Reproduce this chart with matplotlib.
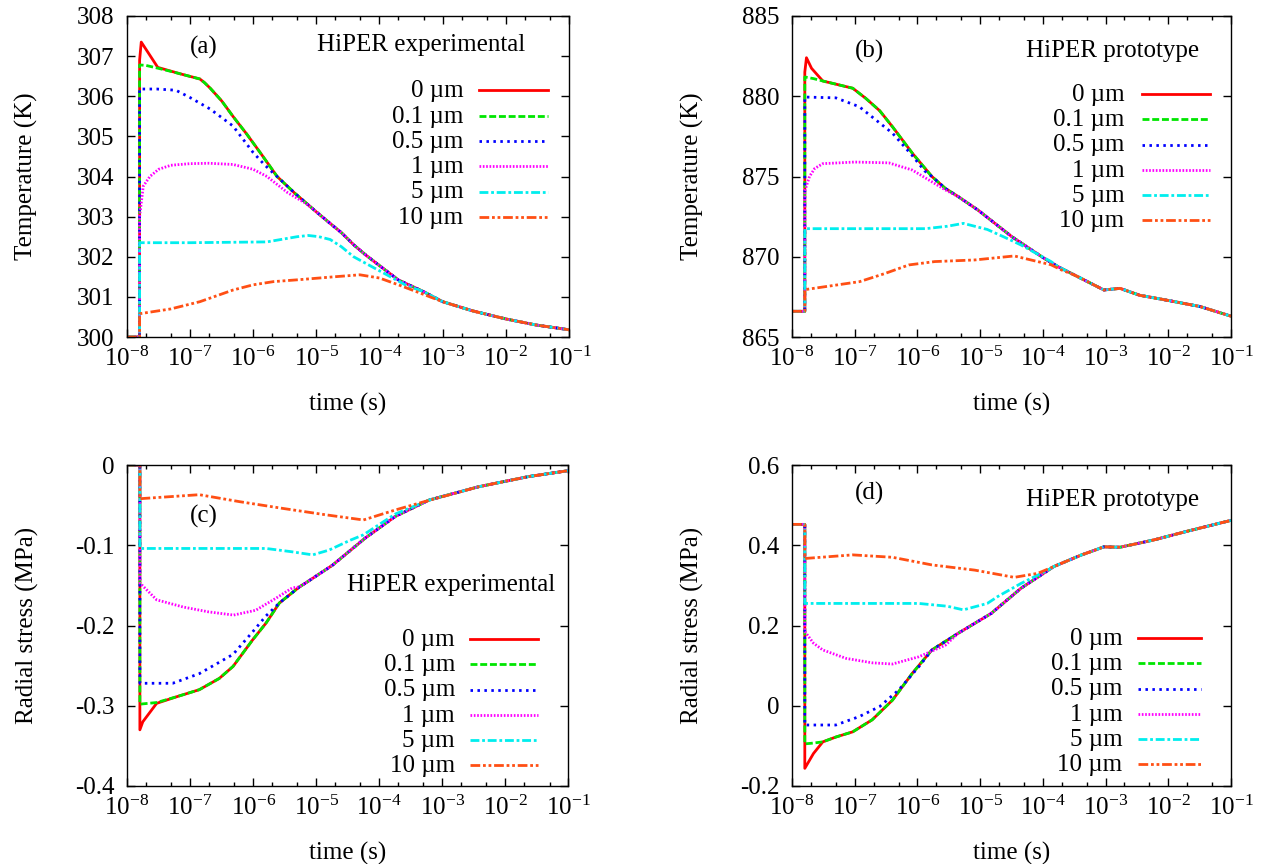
import numpy as np
import matplotlib
matplotlib.use('Agg')
import matplotlib.pyplot as plt
from matplotlib.ticker import FixedLocator, LogLocator, NullFormatter

plt.rcParams['font.family'] = ['Liberation Serif', 'DejaVu Serif']
plt.rcParams['mathtext.fontset'] = 'custom'
plt.rcParams['mathtext.rm'] = 'Liberation Serif'
plt.rcParams['mathtext.it'] = 'Liberation Serif:italic'
plt.rcParams['axes.unicode_minus'] = False

# ---------------- data ----------------
LABELS = ['0 \u00b5m', '0.1 \u00b5m', '0.5 \u00b5m', '1 \u00b5m', '5 \u00b5m', '10 \u00b5m']
XTICKS = [1e-8, 1e-7, 1e-6, 1e-5, 1e-4, 1e-3, 1e-2, 1e-1]
XTICKLABELS = ['10$^{-8}$', '10$^{-7}$', '10$^{-6}$', '10$^{-5}$', '10$^{-4}$',
               '10$^{-3}$', '10$^{-2}$', '10$^{-1}$']

# (a) temperature, HiPER experimental
A_T0 = [1e-8, 1.6e-8, 1.6e-8, 1.7e-8, 3.1e-8, 7e-8, 1.44e-7, 1.7e-7, 2.1e-7, 3.2e-7, 4.8e-7, 8e-7,
        1.29e-6, 1.8e-6, 2.4e-6, 4.6e-6, 1e-5, 1.66e-5, 2.5e-5, 3.9e-5, 6e-5, 1e-4, 2e-4, 5e-4,
        1e-3, 3e-3, 1e-2, 3e-2, 1e-1]
A_V0 = [300, 300, 306.9, 307.35, 306.72, 306.56, 306.43, 306.34, 306.2, 305.88, 305.5, 305.05,
        304.6, 304.28, 304.0, 303.58, 303.12, 302.83, 302.6, 302.3, 302.05, 301.78, 301.42, 301.13,
        300.88, 300.65, 300.45, 300.3, 300.18]
A_T1 = [1e-8, 1.6e-8, 1.6e-8, 2e-8, 3.1e-8, 5e-8]
A_V1 = [300, 300, 306.78, 306.77, 306.7, 306.62]
A_T2 = [1e-8, 1.6e-8, 1.6e-8, 3e-8, 6e-8, 1e-7, 2.1e-7, 4.8e-7, 1e-6, 1.5e-6, 2.1e-6]
A_V2 = [300, 300, 306.18, 306.18, 306.15, 305.97, 305.68, 305.26, 304.6, 304.3, 304.08]
A_T3 = [1e-8, 1.6e-8, 1.6e-8, 1.83e-8, 2.33e-8, 3.2e-8, 5e-8, 1e-7, 2e-7, 4.8e-7, 1e-6, 1.66e-6, 3.5e-6, 7e-6]
A_V3 = [300, 300, 303.0, 303.76, 304.0, 304.18, 304.28, 304.32, 304.33, 304.3, 304.18, 304.0, 303.6, 303.32]
A_T4 = [1e-8, 1.6e-8, 1.6e-8, 1e-7, 1.66e-6, 3e-6, 5e-6, 7.5e-6, 1.1e-5, 1.66e-5, 2.5e-5, 3.9e-5, 1e-4, 2.7e-4]
A_V4 = [300, 300, 302.35, 302.35, 302.37, 302.44, 302.5, 302.53, 302.5, 302.43, 302.25, 302.0, 301.65, 301.28]
A_T5 = [1e-8, 1.6e-8, 1.6e-8, 5e-8, 1.44e-7, 4.8e-7, 1e-6, 2.1e-6, 5.5e-6, 1.9e-5, 4.9e-5, 1e-4, 2e-4, 4e-4, 6.3e-4]
A_V5 = [300, 300, 300.58, 300.7, 300.88, 301.17, 301.3, 301.38, 301.43, 301.5, 301.55, 301.47, 301.3, 301.12, 301.0]
A_JOIN = [7e-8, 2.4e-6, 1e-5, 5e-4, 1e-3]

# (b) temperature, HiPER prototype
B_T0 = [1e-8, 1.6e-8, 1.6e-8, 1.7e-8, 2.05e-8, 3.1e-8, 9.3e-8, 1.5e-7, 2.5e-7, 4e-7, 8.3e-7, 1.7e-6,
        2.8e-6, 4.5e-6, 9.3e-6, 3.2e-5, 1.05e-4, 1.75e-4, 3.2e-4, 9.4e-4, 1.7e-3, 3.5e-3, 9.3e-3, 3.2e-2, 1e-1]
B_V0 = [866.6, 866.6, 881.5, 882.4, 881.74, 880.95, 880.5, 879.87, 879.1, 878.1, 876.45, 875.0,
        874.25, 873.74, 872.9, 871.25, 869.9, 869.38, 868.86, 867.93, 868.03, 867.6, 867.3, 866.9, 866.3]
B_T1 = [1e-8, 1.6e-8, 1.6e-8, 2.2e-8]
B_V1 = [866.6, 866.6, 881.2, 881.1]
B_T2 = [1e-8, 1.6e-8, 1.6e-8, 5e-8, 1.18e-7, 4e-7, 8.3e-7, 1.3e-6]
B_V2 = [866.6, 866.6, 879.95, 879.9, 879.35, 877.7, 876.3, 875.35]
B_T3 = [1e-8, 1.6e-8, 1.6e-8, 1.9e-8, 2.3e-8, 3.1e-8, 1e-7, 3.5e-7, 8.3e-7, 2.8e-6]
B_V3 = [866.6, 866.6, 874.1, 875.0, 875.5, 875.8, 875.9, 875.85, 875.4, 874.16]
B_T4 = [1e-8, 1.6e-8, 1.6e-8, 1.35e-6, 3e-6, 5.4e-6, 1.3e-5, 2.5e-5, 4.5e-5, 1.35e-4]
B_V4 = [866.6, 866.6, 871.75, 871.75, 871.9, 872.08, 871.7, 871.2, 870.73, 869.7]
B_T5 = [1e-8, 1.6e-8, 1.6e-8, 1.2e-7, 3e-7, 7.3e-7, 1.9e-6, 8.2e-6, 3.5e-5, 1.35e-4, 2e-4]
B_V5 = [866.6, 866.6, 867.95, 868.45, 868.95, 869.49, 869.7, 869.8, 870.05, 869.5, 869.17]
B_JOIN = [3.1e-8, 1.7e-6, 4.5e-6, 1.75e-4, 3.2e-4]

# (c) radial stress, HiPER experimental
C_T0 = [1e-8, 1.6e-8, 1.6e-8, 1.78e-8, 2.95e-8, 6e-8, 1.4e-7, 2.9e-7, 4.8e-7, 9.8e-7, 1.6e-6, 2.6e-6,
        5.4e-6, 6.8e-6, 1.8e-5, 6e-5, 1.8e-4, 6.2e-4, 3.8e-3, 2.3e-2, 1e-1]
C_V0 = [0, 0, -0.330, -0.320, -0.297, -0.289, -0.280, -0.266, -0.251, -0.218, -0.197, -0.172,
        -0.152, -0.147, -0.125, -0.091, -0.064, -0.0436, -0.027, -0.0145, -0.007]
C_T1 = [1e-8, 1.6e-8, 1.6e-8, 2.95e-8]
C_V1 = [0, 0, -0.298, -0.296]
C_T2 = [1e-8, 1.6e-8, 1.6e-8, 5.3e-8, 1.4e-7, 4.8e-7, 9.8e-7, 1.6e-6]
C_V2 = [0, 0, -0.272, -0.272, -0.26, -0.236, -0.208, -0.188]
C_T3 = [1e-8, 1.6e-8, 1.6e-8, 2.95e-8, 7.8e-8, 1.96e-7, 4.9e-7, 1.1e-6, 2.3e-6, 4.2e-6]
C_V3 = [0, 0, -0.147, -0.168, -0.177, -0.183, -0.187, -0.181, -0.166, -0.153]
C_T4 = [1e-8, 1.6e-8, 1.6e-8, 1.6e-6, 4e-6, 8.8e-6, 1.6e-5, 3.4e-5, 5.6e-5, 1.8e-4]
C_V4 = [0, 0, -0.104, -0.104, -0.108, -0.112, -0.106, -0.094, -0.087, -0.061]
C_T5 = [1e-8, 1.6e-8, 1.6e-8, 1.4e-7, 6.1e-7, 2.9e-6, 1.4e-5, 5.6e-5, 1.8e-4, 5e-4]
C_V5 = [0, 0, -0.042, -0.037, -0.0457, -0.054, -0.062, -0.0685, -0.056, -0.046]
C_JOIN = [6e-8, 2.6e-6, 5.4e-6, 6.2e-4, 3.8e-3]

# (d) radial stress, HiPER prototype
D_T0 = [1e-8, 1.6e-8, 1.6e-8, 2.2e-8, 3.1e-8, 5e-8, 9.3e-8, 1.9e-7, 4e-7, 8.3e-7, 1.7e-6, 4.5e-6,
        1.5e-5, 4.5e-5, 1.5e-4, 4e-4, 9.4e-4, 1.7e-3, 5.8e-3, 1.9e-2, 1e-1]
D_V0 = [0.452, 0.452, -0.156, -0.119, -0.090, -0.078, -0.065, -0.035, 0.014, 0.081, 0.139, 0.181,
        0.230, 0.293, 0.347, 0.375, 0.396, 0.395, 0.413, 0.434, 0.462]
D_T1 = [1e-8, 1.6e-8, 1.6e-8, 2.2e-8]
D_V1 = [0.452, 0.452, -0.095, -0.093]
D_T2 = [1e-8, 1.6e-8, 1.6e-8, 5e-8, 1.18e-7, 2.5e-7, 5e-7, 1.05e-6]
D_V2 = [0.452, 0.452, -0.048, -0.048, -0.027, -0.002, 0.039, 0.097]
D_T3 = [1e-8, 1.6e-8, 1.6e-8, 2.2e-8, 3.1e-8, 7.3e-8, 1.9e-7, 4e-7, 1.05e-6, 2.8e-6]
D_V3 = [0.452, 0.452, 0.185, 0.156, 0.139, 0.118, 0.107, 0.104, 0.122, 0.151]
D_T4 = [1e-8, 1.6e-8, 1.6e-8, 1.05e-6, 3e-6, 5.4e-6, 1.3e-5, 1.9e-5, 4.5e-5, 1.2e-4]
D_V4 = [0.452, 0.452, 0.255, 0.255, 0.248, 0.239, 0.255, 0.272, 0.305, 0.338]
D_T5 = [1e-8, 1.6e-8, 1.6e-8, 9.3e-8, 4e-7, 1.7e-6, 8.2e-6, 3.5e-5, 8.3e-5]
D_V5 = [0.452, 0.452, 0.367, 0.376, 0.370, 0.351, 0.338, 0.320, 0.330]
D_JOIN = [3.1e-8, 1.7e-6, 4.5e-6, 1.5e-4, 1.5e-4]

A_YTICKS = [300, 301, 302, 303, 304, 305, 306, 307, 308]
B_YTICKS = [865, 870, 875, 880, 885]
C_YTICKS = [-0.4, -0.3, -0.2, -0.1, 0.0]
C_YTICKLABELS = ['-0.4', '-0.3', '-0.2', '-0.1', '0']
D_YTICKS = [-0.2, 0.0, 0.2, 0.4, 0.6]
D_YTICKLABELS = ['-0.2', '0', '0.2', '0.4', '0.6']

# ---------------- styles ----------------
COLORS = ['#ff0000', '#00e600', '#0000ff', '#ff00ff', '#00eeee', '#ff4f14']
DASHES = [None, (2.5, 1.0), (0.9, 1.6), (0.6, 0.6), (3.2, 1.0, 1.0, 1.0), (3.5, 1.0, 1.0, 1.0, 1.0, 1.0)]
LW = 2.0
FS = 18


def full_series(t0, v0, ts, vs, join):
    """early part of a curve followed by the shared (0 um) tail from `join` on"""
    t = list(ts) + [t for t in t0 if t >= join]
    v = list(vs) + [v for t, v in zip(t0, v0) if t >= join]
    return t, v


def line_kw(i):
    kw = dict(color=COLORS[i], lw=LW, solid_joinstyle='round')
    if DASHES[i] is None:
        kw['linestyle'] = '-'
    else:
        kw['linestyle'] = (0, DASHES[i])
    return kw


W, H = 1264, 864
fig = plt.figure(figsize=(W / 100, H / 100), dpi=100)


def add_ax(l, t, r, b):
    return fig.add_axes([l / W, 1 - b / H, (r - l) / W, (b - t) / H])


axa = add_ax(126.7, 16, 569, 337)
axb = add_ax(792, 16, 1231, 337)
axc = add_ax(127, 465, 568.5, 786)
axd = add_ax(792, 465, 1231, 786)

panels = [
    (axa, A_T0, A_V0, [(A_T1, A_V1), (A_T2, A_V2), (A_T3, A_V3), (A_T4, A_V4), (A_T5, A_V5)], A_JOIN),
    (axb, B_T0, B_V0, [(B_T1, B_V1), (B_T2, B_V2), (B_T3, B_V3), (B_T4, B_V4), (B_T5, B_V5)], B_JOIN),
    (axc, C_T0, C_V0, [(C_T1, C_V1), (C_T2, C_V2), (C_T3, C_V3), (C_T4, C_V4), (C_T5, C_V5)], C_JOIN),
    (axd, D_T0, D_V0, [(D_T1, D_V1), (D_T2, D_V2), (D_T3, D_V3), (D_T4, D_V4), (D_T5, D_V5)], D_JOIN),
]

for ax, t0, v0, others, joins in panels:
    ax.plot(t0, v0, **line_kw(0))
    for i, ((ts, vs), j) in enumerate(zip(others, joins), start=1):
        t, v = full_series(t0, v0, ts, vs, j)
        ax.plot(t, v, **line_kw(i))
    ax.set_xscale('log')
    ax.set_xlim(1e-8, 1e-1)
    ax.xaxis.set_major_locator(FixedLocator(XTICKS))
    ax.set_xticklabels(XTICKLABELS)
    ax.xaxis.set_minor_locator(LogLocator(base=10, subs=(2.0, 5.0), numticks=30))
    ax.xaxis.set_minor_formatter(NullFormatter())
    ax.tick_params(which='both', direction='in', top=True, right=True)
    ax.tick_params(which='major', length=6, width=1.0, labelsize=FS)
    ax.tick_params(which='minor', length=3, width=1.0)
    ax.tick_params(axis='x', pad=7)
    ax.tick_params(axis='y', pad=9)
    for s in ax.spines.values():
        s.set_linewidth(1.0)
    ax.set_xlabel('time (s)', fontsize=FS)
    ax.xaxis.set_label_coords(0.5, -0.175)

axa.set_ylim(300, 308)
axa.set_yticks(A_YTICKS)
axa.set_yticklabels([str(v) for v in A_YTICKS])
axb.set_ylim(865, 885)
axb.set_yticks(B_YTICKS)
axb.set_yticklabels([str(v) for v in B_YTICKS])
axc.set_ylim(-0.4, 0.0)
axc.set_yticks(C_YTICKS)
axc.set_yticklabels(C_YTICKLABELS)
axd.set_ylim(-0.2, 0.6)
axd.set_yticks(D_YTICKS)
axd.set_yticklabels(D_YTICKLABELS)

for ax in (axa, axb):
    ax.set_ylabel('Temperature (K)', fontsize=FS)
for ax in (axc, axd):
    ax.set_ylabel('Radial stress (MPa)', fontsize=FS)
for ax in (axa, axb, axc, axd):
    ax.yaxis.set_label_coords(-0.200, 0.5)

# panel annotations
axa.text(0.174, 0.903, '(a)', transform=axa.transAxes, ha='center', va='center', fontsize=FS)
axa.text(0.431, 0.910, 'HiPER experimental', transform=axa.transAxes, ha='left', va='center', fontsize=FS)
axb.text(0.177, 0.888, '(b)', transform=axb.transAxes, ha='center', va='center', fontsize=FS)
axb.text(0.533, 0.890, 'HiPER prototype', transform=axb.transAxes, ha='left', va='center', fontsize=FS)
axc.text(0.175, 0.839, '(c)', transform=axc.transAxes, ha='center', va='center', fontsize=FS)
axc.text(0.499, 0.626, 'HiPER experimental', transform=axc.transAxes, ha='left', va='center', fontsize=FS)
axd.text(0.177, 0.912, '(d)', transform=axd.transAxes, ha='center', va='center', fontsize=FS)
axd.text(0.533, 0.891, 'HiPER prototype', transform=axd.transAxes, ha='left', va='center', fontsize=FS)


def draw_key(ax, text_x, x0, x1, y0, dy=0.0788):
    for i, lab in enumerate(LABELS):
        y = y0 - i * dy
        ax.text(text_x, y - 0.021, lab, transform=ax.transAxes, ha='right', va='baseline', fontsize=FS)
        ax.plot([x0, x1], [y, y], transform=ax.transAxes, clip_on=False, **line_kw(i))


draw_key(axa, 0.761, 0.797, 0.953, 0.768)
draw_key(axb, 0.757, 0.798, 0.952, 0.757)
draw_key(axc, 0.743, 0.777, 0.932, 0.458)
draw_key(axd, 0.753, 0.789, 0.932, 0.461)

fig.savefig('out.png', dpi=100)
